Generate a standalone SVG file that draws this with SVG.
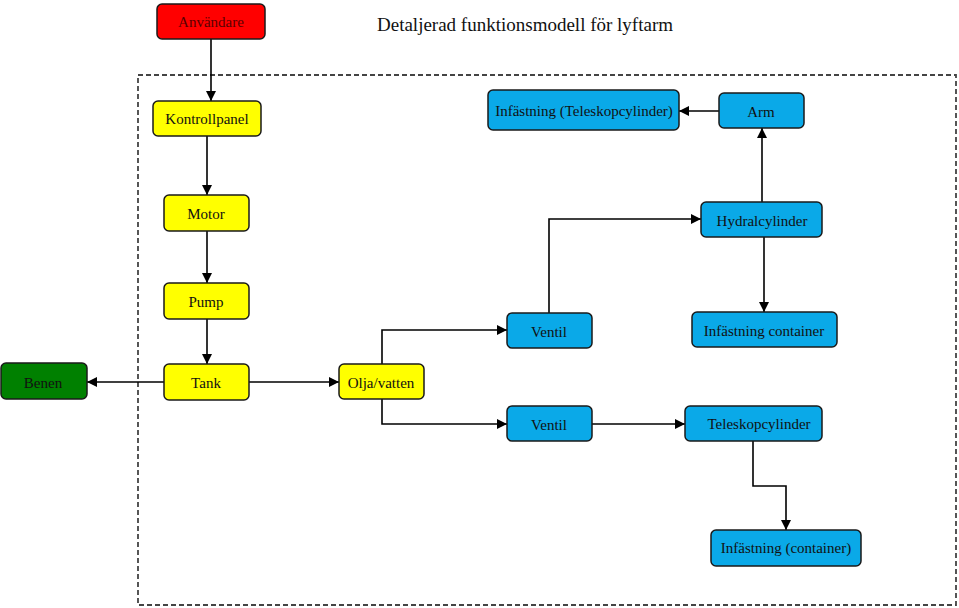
<svg xmlns="http://www.w3.org/2000/svg" width="959" height="608" viewBox="0 0 959 608">
<style>
.n{stroke:#1a1a1a;stroke-width:1.5}
.y{fill:#ffff00}.b{fill:#0aa9e8}.g{fill:#008000}.r{fill:#ff0000}
text{font-family:"Liberation Serif","Times New Roman",serif;font-size:15px;fill:#111;text-anchor:middle}
.c{fill:none;stroke:#000;stroke-width:1.6;marker-end:url(#ah)}
</style>
<defs>
<marker id="ah" viewBox="0 0 10 10" refX="10" refY="5" markerWidth="11" markerHeight="10" markerUnits="userSpaceOnUse" orient="auto">
<path d="M0,0 L10,5 L0,10 z" fill="#000"/>
</marker>
</defs>
<rect x="138" y="75" width="818" height="530" fill="none" stroke="#444" stroke-width="1.8" stroke-dasharray="5,3"/>
<text x="525" y="31" style="font-size:19px">Detaljerad funktionsmodell för lyftarm</text>
<g id="connectors">
<path class="c" d="M211,39 V101"/>
<path class="c" d="M207,136 V195"/>
<path class="c" d="M207,231 V283"/>
<path class="c" d="M207,319 V364"/>
<path class="c" d="M164,382 H87"/>
<path class="c" d="M249,382 H339"/>
<path class="c" d="M382,364 V330 H507"/>
<path class="c" d="M382,399 V424 H507"/>
<path class="c" d="M592,424 H685"/>
<path class="c" d="M549,313 V219 H701"/>
<path class="c" d="M764,237 V312"/>
<path class="c" d="M762,202 V128"/>
<path class="c" d="M719,111 H679"/>
<path class="c" d="M753,441 V486 H786 V530"/>
</g>
<g id="anvandare"><rect class="n r" x="157" y="4" width="108" height="35" rx="5"/><text x="211" y="27" style="fill:#5a0000">Användare</text></g>
<g id="kontrollpanel"><rect class="n y" x="153" y="101" width="108" height="35" rx="5"/><text x="207" y="124">Kontrollpanel</text></g>
<g id="motor"><rect class="n y" x="164" y="195" width="85" height="36" rx="5"/><text x="206" y="219">Motor</text></g>
<g id="pump"><rect class="n y" x="164" y="283" width="85" height="36" rx="5"/><text x="206" y="307">Pump</text></g>
<g id="tank"><rect class="n y" x="164" y="364" width="85" height="36" rx="5"/><text x="206" y="388">Tank</text></g>
<g id="benen"><rect class="n g" x="1" y="363" width="86" height="36" rx="5"/><text x="43" y="388">Benen</text></g>
<g id="olja"><rect class="n y" x="339" y="364" width="85" height="35" rx="5"/><text x="381" y="388">Olja/vatten</text></g>
<g id="ventil1"><rect class="n b" x="507" y="313" width="85" height="35" rx="5"/><text x="549" y="337">Ventil</text></g>
<g id="ventil2"><rect class="n b" x="507" y="406" width="85" height="35" rx="5"/><text x="549" y="430">Ventil</text></g>
<g id="teleskopcylinder"><rect class="n b" x="685" y="406" width="137" height="35" rx="5"/><text x="759" y="429">Teleskopcylinder</text></g>
<g id="infastning-container2"><rect class="n b" x="711" y="530" width="150" height="36" rx="5"/><text x="786" y="553">Infästning (container)</text></g>
<g id="infastning-container"><rect class="n b" x="692" y="312" width="145" height="35" rx="5"/><text x="764" y="336">Infästning container</text></g>
<g id="hydralcylinder"><rect class="n b" x="701" y="202" width="121" height="35" rx="5"/><text x="762" y="226">Hydralcylinder</text></g>
<g id="arm"><rect class="n b" x="719" y="93" width="85" height="35" rx="5"/><text x="761" y="117">Arm</text></g>
<g id="infastning-tele"><rect class="n b" x="488" y="90" width="191" height="40" rx="5"/><text x="584" y="116">Infästning (Teleskopcylinder)</text></g>
</svg>
